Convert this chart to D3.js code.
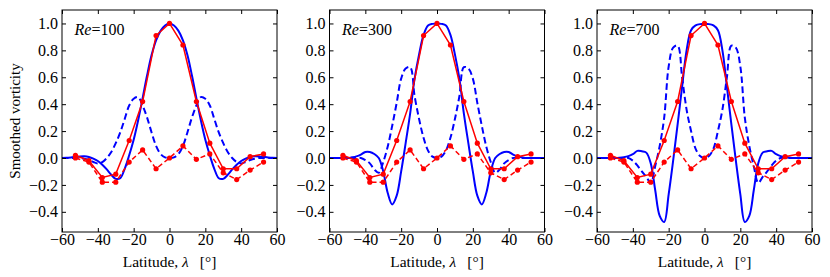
<!DOCTYPE html>
<html>
<head>
<meta charset="utf-8">
<script src="https://cdn.jsdelivr.net/npm/d3@7"></script>
<style>
  body { margin: 0; background: #fff; }
  text { font-family: "Liberation Serif", "DejaVu Serif", serif; }
  .axis text { font-size: 16px; fill: #000; }
  .axis line { stroke: #000; }
</style>
</head>
<body>
<script>
// Chart data
var lat = [-60, -57.5, -55, -52.5, -50, -47.5, -45, -42.5, -40, -37.5, -35, -32.5, -30, -27.5, -25, -22.5, -20, -17.5, -15, -12.5, -10, -7.5, -5, -2.5,
  0, 2.5, 5, 7.5, 10, 12.5, 15, 17.5, 20, 22.5, 25, 27.5, 30, 32.5, 35, 37.5, 40, 42.5, 45, 47.5, 50, 52.5, 55, 57.5, 60];

var re100Solid = [0, 0.001, 0.004, 0.008, 0.012, 0.013, 0.008, -0.004, -0.022, -0.05, -0.085, -0.125, -0.155, -0.15, -0.08, 0.02, 0.135, 0.28, 0.445, 0.615, 0.765, 0.875, 0.945, 0.985,
  1.0, 0.985, 0.945, 0.875, 0.765, 0.615, 0.445, 0.28, 0.135, 0.02, -0.08, -0.15, -0.155, -0.125, -0.085, -0.05, -0.022, -0.004, 0.008, 0.013, 0.012, 0.008, 0.004, 0.001, 0];
var re100Dashed = [0, 0, 0, 0, 0, -0.005, -0.015, -0.03, -0.04, -0.03, 0, 0.045, 0.11, 0.19, 0.29, 0.39, 0.44, 0.452, 0.39, 0.30, 0.19, 0.09, 0.03, 0.005,
  0, 0.005, 0.03, 0.09, 0.19, 0.30, 0.39, 0.452, 0.44, 0.39, 0.29, 0.19, 0.11, 0.045, 0, -0.03, -0.04, -0.03, -0.015, -0.005, 0, 0, 0, 0, 0];

var re300Solid = [0, 0, 0, 0, 0, 0.005, 0.012, 0.025, 0.045, 0.045, 0.03, 0, -0.10, -0.26, -0.345, -0.28, -0.10, 0.11, 0.33, 0.59, 0.77, 0.915, 0.985, 0.997,
  1.0, 0.997, 0.985, 0.915, 0.77, 0.59, 0.33, 0.11, -0.10, -0.28, -0.345, -0.26, -0.10, 0, 0.03, 0.045, 0.045, 0.025, 0.012, 0.005, 0, 0, 0, 0, 0];
var re300Dashed = [0, 0, 0, 0, 0, 0, 0, 0, -0.015, -0.04, -0.085, -0.11, -0.03, 0.085, 0.24, 0.41, 0.59, 0.665, 0.675, 0.46, 0.29, 0.15, 0.055, 0.01,
  0, 0.01, 0.055, 0.15, 0.29, 0.46, 0.675, 0.665, 0.59, 0.41, 0.24, 0.085, -0.03, -0.11, -0.085, -0.04, -0.015, 0, 0, 0, 0, 0, 0, 0, 0];

var re700Solid = [0, 0, 0, 0, 0, 0.002, 0.006, 0.014, 0.028, 0.053, 0.05, 0.04, -0.04, -0.24, -0.43, -0.475, -0.27, -0.02, 0.25, 0.53, 0.80, 0.95, 0.985, 0.995,
  0.995, 0.995, 0.985, 0.95, 0.80, 0.53, 0.25, -0.02, -0.27, -0.475, -0.43, -0.24, -0.04, 0.04, 0.05, 0.053, 0.028, 0.014, 0.006, 0.002, 0, 0, 0, 0, 0];
var re700Dashed = [0, 0, 0, 0, 0, 0, 0, 0, -0.02, -0.055, -0.10, -0.14, -0.185, -0.06, 0.09, 0.30, 0.68, 0.82, 0.835, 0.6, 0.36, 0.2, 0.07, 0.015,
  0, 0.015, 0.07, 0.2, 0.36, 0.6, 0.835, 0.82, 0.68, 0.30, 0.09, -0.06, -0.185, -0.14, -0.10, -0.055, -0.02, 0, 0, 0, 0, 0, 0, 0, 0];

// red sampled points (same in every panel)
var sampleLat = [-52.5, -45, -37.5, -30, -22.5, -15, -7.5, 0, 7.5, 15, 22.5, 30, 37.5, 45, 52.5];
var redSolid = [0.02, -0.02, -0.145, -0.12, 0.13, 0.42, 0.91, 1.0, 0.84, 0.42, 0.11, -0.08, -0.08, 0.01, 0.03];
var redDashed = [0.0, -0.03, -0.18, -0.18, -0.03, 0.06, -0.08, 0.0, 0.09, -0.01, 0.03, -0.11, -0.16, -0.09, -0.03];

var reLabels = ["100", "300", "700"];
var solidSeries = [re100Solid, re300Solid, re700Solid];
var dashedSeries = [re100Dashed, re300Dashed, re700Dashed];
var xTicks = [-60, -40, -20, 0, 20, 40, 60];
var yTicks = [-0.4, -0.2, 0.0, 0.2, 0.4, 0.6, 0.8, 1.0];

// Chart params
var svgWidth = 830;
var svgHeight = 277;
var panelLeft = [62, 329.5, 597];
var panelWidth = 215;
var plotTop = 10, plotBottom = 232;

var svg = d3.select("body")
  .append("svg")
  .attr("width", svgWidth)
  .attr("height", svgHeight);

var y = d3.scaleLinear()
  .domain([-0.55, 1.1])
  .range([plotBottom, plotTop]);

reLabels.forEach(function(re, i) {
  var x = d3.scaleLinear()
    .domain([-60, 60])
    .range([panelLeft[i], panelLeft[i] + panelWidth]);

  var g = svg.append("g");

  g.append("clipPath")
    .attr("id", "clip" + i)
    .append("rect")
    .attr("x", panelLeft[i])
    .attr("y", plotTop)
    .attr("width", panelWidth)
    .attr("height", plotBottom - plotTop);

  var plot = g.append("g").attr("clip-path", "url(#clip" + i + ")");

  var smooth = d3.line()
    .x(d => x(d[0]))
    .y(d => y(d[1]))
    .curve(d3.curveCatmullRom.alpha(0.5));

  var straight = d3.line()
    .x(d => x(d[0]))
    .y(d => y(d[1]));

  plot.append("path")
    .datum(d3.zip(lat, solidSeries[i]))
    .attr("d", smooth)
    .attr("fill", "none")
    .attr("stroke", "#0000ff")
    .attr("stroke-width", 2);

  plot.append("path")
    .datum(d3.zip(lat, dashedSeries[i]))
    .attr("d", smooth)
    .attr("fill", "none")
    .attr("stroke", "#0000ff")
    .attr("stroke-width", 2)
    .attr("stroke-dasharray", "6.5,3.5");

  plot.append("path")
    .datum(d3.zip(sampleLat, redSolid))
    .attr("d", straight)
    .attr("fill", "none")
    .attr("stroke", "#ff0000")
    .attr("stroke-width", 1.5);

  plot.append("path")
    .datum(d3.zip(sampleLat, redDashed))
    .attr("d", straight)
    .attr("fill", "none")
    .attr("stroke", "#ff0000")
    .attr("stroke-width", 1.5)
    .attr("stroke-dasharray", "5,3");

  [redSolid, redDashed].forEach(function(vals) {
    plot.selectAll(null)
      .data(d3.zip(sampleLat, vals))
      .enter()
      .append("circle")
      .attr("cx", d => x(d[0]))
      .attr("cy", d => y(d[1]))
      .attr("r", 2.6)
      .attr("fill", "#ff0000");
  });

  // axes, ticks pointing inward on all four sides
  g.append("g")
    .attr("class", "axis")
    .attr("transform", `translate(0, ${plotBottom})`)
    .call(d3.axisBottom(x).tickValues(xTicks).tickSize(-4).tickPadding(2).tickFormat(d3.format("d")))
    .call(a => a.select(".domain").remove());

  g.append("g")
    .attr("class", "axis")
    .attr("transform", `translate(0, ${plotTop})`)
    .call(d3.axisTop(x).tickValues(xTicks).tickSize(-4).tickFormat(""))
    .call(a => a.select(".domain").remove());

  g.append("g")
    .attr("class", "axis")
    .attr("transform", `translate(${panelLeft[i]}, 0)`)
    .call(d3.axisLeft(y).tickValues(yTicks).tickSize(-4).tickPadding(4).tickFormat(d3.format(".1f")))
    .call(a => a.select(".domain").remove());

  g.append("g")
    .attr("class", "axis")
    .attr("transform", `translate(${panelLeft[i] + panelWidth}, 0)`)
    .call(d3.axisRight(y).tickValues(yTicks).tickSize(-4).tickFormat(""))
    .call(a => a.select(".domain").remove());

  g.append("rect")
    .attr("x", panelLeft[i])
    .attr("y", plotTop)
    .attr("width", panelWidth)
    .attr("height", plotBottom - plotTop)
    .attr("fill", "none")
    .attr("stroke", "#000")
    .attr("stroke-width", 1);

  var lbl = g.append("text")
    .attr("x", panelLeft[i] + 12.5)
    .attr("y", plotTop + 25)
    .attr("font-size", "16px");
  lbl.append("tspan").attr("font-style", "italic").text("Re");
  lbl.append("tspan").text("=" + re);

  var xl = g.append("text")
    .attr("x", panelLeft[i] + panelWidth / 2)
    .attr("y", 267)
    .attr("text-anchor", "middle")
    .attr("font-size", "15.5px");
  xl.append("tspan").text("Latitude, ");
  xl.append("tspan").attr("font-style", "italic").text("λ");
  xl.append("tspan").attr("dx", "11").text("[°]");
});

svg.append("text")
  .attr("transform", `translate(20, ${(plotTop + plotBottom) / 2}) rotate(-90)`)
  .attr("text-anchor", "middle")
  .attr("font-size", "15px")
  .text("Smoothed vorticity");
</script>
</body>
</html>
